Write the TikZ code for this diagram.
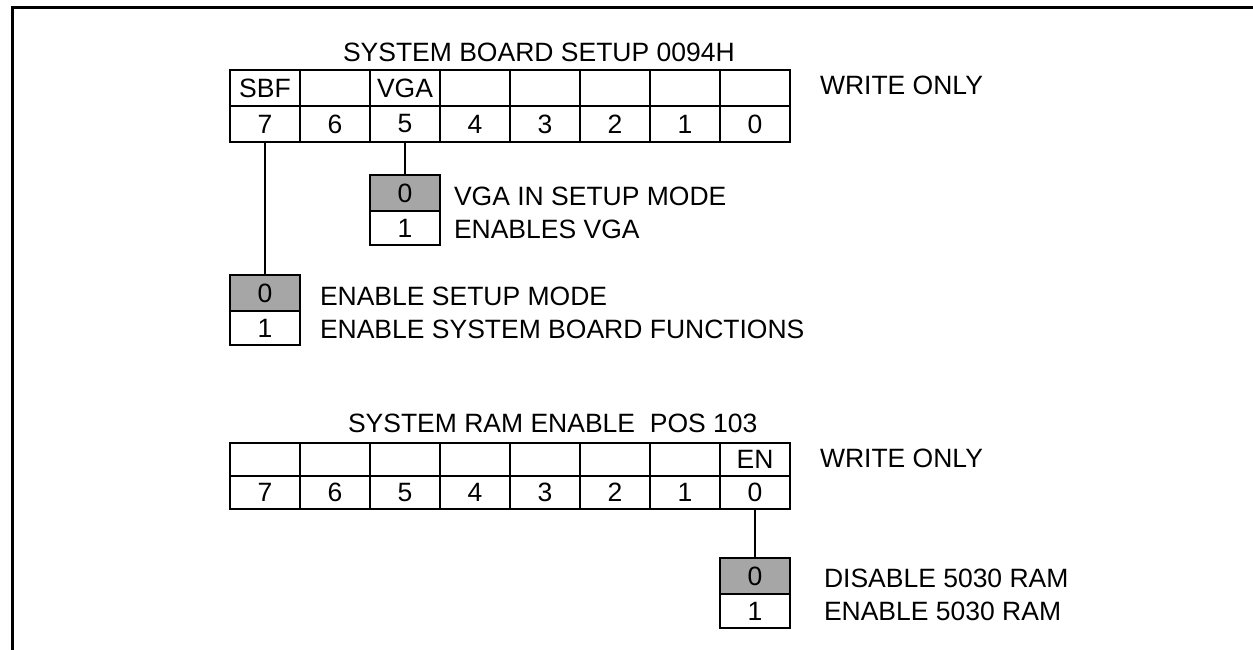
\documentclass[tikz,border=0pt]{standalone}
\usepackage{fontspec}
\setmainfont{Liberation Sans}
\begin{document}
\begin{tikzpicture}[x=1pt,y=-1pt,
  every node/.style={font=\fontsize{26.5}{30}\selectfont, inner sep=0pt, outer sep=0pt},
  cell/.style={draw, line width=2pt, minimum width=70pt, anchor=north west},
  toprow/.style={cell, minimum height=36pt},
  botrow/.style={cell, minimum height=33pt},
  shade/.style={cell, fill=black!35, minimum height=36pt},
  plain/.style={cell, minimum height=34pt},
  lbl/.style={anchor=base west},
  conn/.style={line width=1.5pt},
  frameline/.style={line width=3pt}]
\useasboundingbox (0,0) rectangle (1253,650);
% frame
\coordinate (fa) at (12,650);
\coordinate (fb) at (12,8);
\coordinate (fc) at (1253,8);
\draw[frameline] (fa) -- (fb) -- (fc);

% ---------- top register ----------
\node[lbl] (t1) at (343,62) {SYSTEM BOARD SETUP 0094H};
\foreach \b/\t in {7/SBF,6/,5/VGA,4/,3/,2/,1/,0/}{
  \node[toprow] (A\b) at ({230+70*(7-\b)},70) {\t};
  \node[toprow] (B\b) at ({230+70*(7-\b)},106) {\b};
}
\node[lbl] (w1) at (820,95) {WRITE ONLY};

% VGA option box
\node[shade] (v0) at (370,175) {0};
\node[plain] (v1) at (370,211) {1};
\draw[conn] (B5.south) -- (v0.north);
\node[lbl] (vl0) at (454,205) {VGA IN SETUP MODE};
\node[lbl] (vl1) at (454,238) {ENABLES VGA};

% SBF option box
\node[shade] (s0) at (230,275) {0};
\node[plain] (s1) at (230,311) {1};
\draw[conn] (B7.south) -- (s0.north);
\node[lbl] (sl0) at (320,305) {ENABLE SETUP MODE};
\node[lbl] (sl1) at (320,338) {ENABLE SYSTEM BOARD FUNCTIONS};

% ---------- bottom register ----------
\node[lbl] (t2) at (348,432) {SYSTEM RAM ENABLE\ \ POS 103};
\foreach \b/\t in {7/,6/,5/,4/,3/,2/,1/,0/EN}{
  \node[botrow] (C\b) at ({230+70*(7-\b)},443) {\t};
  \node[botrow] (D\b) at ({230+70*(7-\b)},476) {\b};
}
\node[lbl] (w2) at (820,467) {WRITE ONLY};

% EN option box
\node[shade] (e0) at (720,558) {0};
\node[plain] (e1) at (720,594) {1};
\draw[conn] (D0.south) -- (e0.north);
\node[lbl] (el0) at (824,587) {DISABLE 5030 RAM};
\node[lbl] (el1) at (824,620) {ENABLE 5030 RAM};
\end{tikzpicture}
\end{document}
